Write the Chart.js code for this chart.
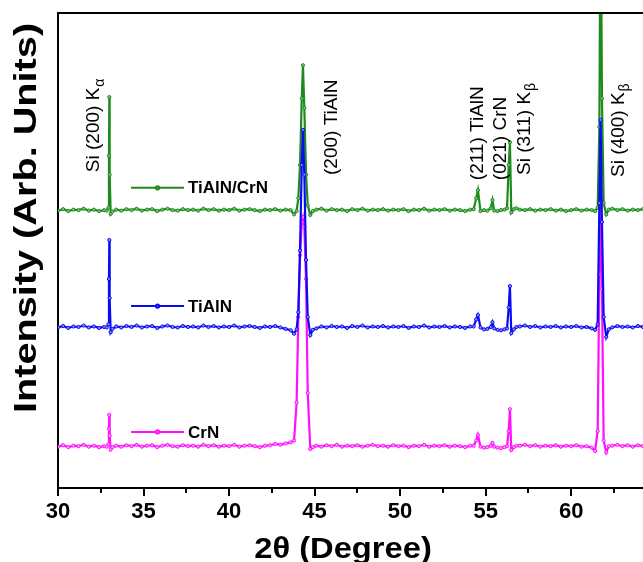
<!DOCTYPE html>
<html>
<head>
<meta charset="utf-8">
<script src="https://cdn.jsdelivr.net/npm/chart.js@4.4.1/dist/chart.umd.min.js"></script>
<style>
    html, body { margin: 0; padding: 0; background: #fff; }
    #wrap { width: 643px; height: 562px; }
</style>
</head>
<body>
<div id="wrap"><canvas id="xrdChart" width="643" height="562"></canvas></div>
<script>
// 2θ positions (degrees), shared by all three scans
const angles = [
    30.0, 30.3, 30.6, 30.9, 31.2, 31.5, 31.8, 32.1, 32.4, 32.7,
    32.85, 32.95, 32.98, 33.0, 33.02, 33.08, 33.18,
    33.4, 33.7, 34.0, 34.3, 34.6, 34.9, 35.2, 35.5, 35.8, 36.1, 36.4, 36.7, 37.0, 37.3, 37.6, 37.9, 38.2, 38.5,
    38.8, 39.1, 39.4, 39.7, 40.0, 40.3, 40.6, 40.9, 41.2, 41.5, 41.8, 42.1, 42.4, 42.7, 43.0, 43.3, 43.6,
    43.8, 43.95, 44.05, 44.15, 44.25, 44.32, 44.4, 44.5, 44.6, 44.75, 44.9,
    45.1, 45.4, 45.7, 46.0, 46.3, 46.6, 46.9, 47.2, 47.5, 47.8, 48.1, 48.4, 48.7, 49.0, 49.3, 49.6,
    49.9, 50.2, 50.5, 50.8, 51.1, 51.4, 51.7, 52.0, 52.3, 52.6, 52.9, 53.2, 53.5, 53.8, 54.1,
    54.3, 54.45, 54.55, 54.7, 54.9, 55.1, 55.3, 55.4, 55.5, 55.7, 55.9, 56.1, 56.25, 56.35, 56.42, 56.5, 56.65, 56.8,
    57.0, 57.3, 57.6, 57.9, 58.2, 58.5, 58.8, 59.1, 59.4, 59.7, 60.0, 60.3, 60.6, 60.9, 61.2,
    61.4, 61.55, 61.65, 61.72, 61.8, 61.9, 62.05, 62.2,
    62.4, 62.7, 63.0, 63.3, 63.6, 63.9, 64.2
];

// intensities (arb. units, already offset per sample)
const tialnCrn = [
    58.4, 58.7, 58.3, 58.6, 58.5, 58.8, 58.4, 58.6, 58.3, 58.5,
    58.4, 59.0, 70.0, 82.3, 66.0, 57.7, 58.2,
    58.6, 58.4, 58.7, 58.5, 58.8, 58.4, 58.6, 58.7, 58.3, 58.6, 58.8, 58.5, 58.4, 58.7, 58.5, 58.6, 58.4, 58.8,
    58.5, 58.7, 58.4, 58.6, 58.5, 58.8, 58.4, 58.6, 58.7, 58.5, 58.3, 58.6, 58.5, 58.7, 58.4, 58.6, 58.5,
    57.6, 58.3, 61.0, 68.0, 82.0, 89.0, 80.0, 66.0, 59.5, 57.5, 58.3,
    58.6, 58.8, 58.4, 58.7, 58.5, 58.6, 58.3, 58.7, 58.5, 58.8, 58.4, 58.6, 58.5, 58.7, 58.4, 58.6,
    58.5, 58.7, 58.3, 58.6, 58.5, 58.8, 58.4, 58.6, 58.5, 58.7, 58.4, 58.6, 58.5, 58.3, 58.6,
    58.7, 61.0, 62.7, 58.3, 58.5, 58.4, 58.9, 60.6, 58.4, 58.3, 58.5, 58.6, 58.9, 68.0, 72.8, 58.0, 58.7, 58.9,
    58.6, 58.5, 58.7, 58.4, 58.6, 58.5, 58.7, 58.4, 58.6, 58.3, 58.5, 58.7, 58.4, 58.6, 58.5,
    58.3, 59.0, 76.0, 130.0, 82.0, 60.0, 57.6, 58.6,
    58.8, 58.5, 58.7, 58.4, 58.6, 58.5, 58.7
];

const tialn = [
    33.8, 34.1, 33.7, 34.0, 33.9, 34.2, 33.8, 34.0, 33.7, 33.9,
    33.8, 34.5, 44.0, 52.2, 40.0, 32.8, 33.5,
    34.0, 33.8, 34.1, 33.9, 34.2, 33.8, 34.0, 34.1, 33.7, 34.0, 34.2, 33.9, 33.8, 34.1, 33.9, 34.0, 33.8, 34.2,
    33.9, 34.1, 33.8, 34.0, 33.9, 34.2, 33.8, 34.0, 34.1, 33.9, 33.7, 34.0, 33.9, 34.1, 33.8, 33.5, 33.2,
    32.5, 33.4, 37.0, 50.0, 68.0, 75.4, 66.0, 48.0, 36.0, 32.2, 33.3,
    33.6, 34.0, 33.8, 34.1, 33.9, 34.0, 33.7, 34.1, 33.9, 34.2, 33.8, 34.0, 33.9, 34.1, 33.8, 34.0,
    33.9, 34.1, 33.7, 34.0, 33.9, 34.2, 33.8, 34.0, 33.9, 34.1, 33.8, 34.0, 33.9, 33.7, 34.0,
    34.0, 35.5, 36.4, 33.8, 33.4, 33.5, 33.9, 34.9, 33.6, 33.3, 33.2, 33.4, 33.6, 38.0, 42.5, 32.6, 33.4, 33.9,
    34.0, 34.2, 33.9, 34.1, 33.8, 34.0, 33.9, 34.1, 33.8, 34.0, 33.9, 34.1, 33.8, 33.9, 33.6,
    33.3, 34.5, 60.0, 77.5, 56.0, 36.0, 31.8, 33.4,
    33.8, 34.1, 33.9, 34.0, 33.8, 34.1, 33.9
];

const crn = [
    8.7, 9.0, 8.6, 8.9, 8.8, 9.1, 8.7, 8.9, 8.6, 8.8,
    8.7, 9.2, 12.5, 15.4, 11.0, 8.1, 8.6,
    8.9, 8.7, 9.0, 8.8, 9.1, 8.7, 8.9, 9.0, 8.6, 8.9, 9.1, 8.8, 8.7, 9.0, 8.8, 8.9, 8.7, 9.1,
    8.8, 9.0, 8.7, 8.9, 8.8, 9.1, 8.7, 8.9, 9.0, 8.8, 8.6, 8.9, 9.0, 9.3, 9.1, 9.4, 9.6,
    10.0, 18.0, 36.0, 49.0, 56.0, 57.0, 55.0, 44.0, 20.0, 8.2, 8.6,
    8.9, 8.7, 9.0, 8.8, 9.1, 8.7, 8.9, 8.8, 9.0, 8.7, 8.9, 9.1, 8.8, 8.9, 8.7, 9.0,
    8.8, 8.9, 8.6, 8.9, 8.8, 9.1, 8.7, 8.9, 8.8, 9.0, 8.7, 8.9, 8.8, 8.6, 8.9,
    8.9, 10.0, 11.2, 8.7, 8.5, 8.6, 8.9, 9.5, 8.7, 8.5, 8.4, 8.6, 8.8, 12.0, 16.6, 8.0, 8.6, 8.9,
    8.9, 9.1, 8.8, 9.0, 8.7, 8.9, 8.8, 9.0, 8.7, 8.9, 8.8, 9.0, 8.7, 8.8, 8.5,
    7.8, 12.0, 45.0, 60.0, 42.0, 10.0, 7.5, 8.8,
    8.9, 9.1, 8.8, 9.0, 8.7, 9.0, 8.8
];

const seriesNames = ['TiAlN/CrN', 'TiAlN', 'CrN'];
const xTicks = [30, 32.5, 35, 37.5, 40, 42.5, 45, 47.5, 50, 52.5, 55, 57.5, 60, 62.5];

// peak annotations: text, subscript, 2θ of the text column, intensity where text starts
const peakLabels = [
    { text: 'Si (200) K', sub: 'α', x: 32.0, y: 66.5 },
    { text: '(200) TiAlN', sub: '', x: 45.9, y: 65.9 },
    { text: '(211) TiAlN', sub: '', x: 54.43, y: 64.8 },
    { text: '(021) CrN', sub: '', x: 55.78, y: 64.8 },
    { text: 'Si (311) K', sub: 'β', x: 57.18, y: 65.9 },
    { text: 'Si (400) K', sub: 'β', x: 62.69, y: 65.5 }
];

const FONT = '"Liberation Sans", Arial, sans-serif';
const colors = ['#1e8a1e', '#0a0af5', '#ff10ff'];
const lightColors = ['#7cc47c', '#8a8aff', '#ff9cff'];
// in-plot legend rows (intensity level of each sample's key)
const legendLevels = [63.2, 38.3, 11.8];

function toPoints(ys) {
    return angles.map((a, i) => ({ x: a, y: ys[i] }));
}

const decorPlugin = {
    id: 'decor',
    afterDraw(chart) {
        const { ctx, chartArea: a, scales: { x, y } } = chart;
        ctx.save();

        // frame top + minor ticks
        ctx.strokeStyle = '#000';
        ctx.lineWidth = 2;
        ctx.beginPath();
        ctx.moveTo(a.left - 1, a.top);
        ctx.lineTo(chart.width, a.top);
        ctx.stroke();
        xTicks.filter(v => v % 5 !== 0).forEach(v => {
            const px = Math.round(x.getPixelForValue(v));
            ctx.beginPath();
            ctx.moveTo(px, a.bottom);
            ctx.lineTo(px, a.bottom + 5);
            ctx.stroke();
        });

        // peak labels, rotated
        ctx.fillStyle = '#000';
        peakLabels.forEach(p => {
            const px = x.getPixelForValue(p.x) + 7;
            const py = y.getPixelForValue(p.y);
            ctx.save();
            ctx.translate(px, py);
            ctx.rotate(-Math.PI / 2);
            ctx.textAlign = 'left';
            ctx.textBaseline = 'alphabetic';
            ctx.font = `19px ${FONT}`;
            ctx.fillText(p.text, 0, 0);
            if (p.sub) {
                const w = ctx.measureText(p.text).width;
                ctx.font = `14px ${FONT}`;
                ctx.fillText(p.sub, w + 1, 5);
            }
            ctx.restore();
        });

        // legend keys inside the plot
        seriesNames.forEach((name, i) => {
            const py = y.getPixelForValue(legendLevels[i]);
            const x0 = x.getPixelForValue(34.27);
            const x1 = x.getPixelForValue(37.37);
            ctx.strokeStyle = colors[i];
            ctx.lineWidth = 2;
            ctx.beginPath();
            ctx.moveTo(x0, py);
            ctx.lineTo(x1, py);
            ctx.stroke();
            ctx.fillStyle = lightColors[i];
            ctx.beginPath();
            ctx.arc((x0 + x1) / 2, py, 1.6, 0, Math.PI * 2);
            ctx.fill();
            ctx.stroke();
            ctx.fillStyle = '#000';
            ctx.font = `bold 17px ${FONT}`;
            ctx.textAlign = 'left';
            ctx.textBaseline = 'middle';
            ctx.fillText(name, x.getPixelForValue(37.6), py + 1);
        });

        // axis titles (slightly stretched like the source figure)
        ctx.fillStyle = '#000';
        ctx.save();
        ctx.translate(27, 218);
        ctx.rotate(-Math.PI / 2);
        ctx.scale(1.24, 1);
        ctx.font = `bold 32px ${FONT}`;
        ctx.textAlign = 'center';
        ctx.textBaseline = 'middle';
        ctx.fillText('Intensity (Arb. Units)', 0, 0);
        ctx.restore();

        ctx.save();
        ctx.translate(343, 558);
        ctx.scale(1.09, 1);
        ctx.font = `bold 30px ${FONT}`;
        ctx.textAlign = 'center';
        ctx.textBaseline = 'alphabetic';
        ctx.fillText('2θ (Degree)', 0, 0);
        ctx.restore();

        ctx.restore();
    }
};

const datasets = [tialnCrn, tialn, crn].map((ys, i) => ({
    label: seriesNames[i],
    data: toPoints(ys),
    borderColor: colors[i],
    backgroundColor: colors[i],
    borderWidth: 2.2,
    pointRadius: 1.6,
    pointBorderWidth: 1,
    pointBackgroundColor: lightColors[i],
    pointBorderColor: colors[i],
    tension: 0,
    // blue on top, then magenta, green underneath
    order: [2, 0, 1][i]
}));

new Chart(document.getElementById('xrdChart'), {
    type: 'line',
    data: { datasets: datasets },
    options: {
        responsive: false,
        animation: false,
        events: [],
        layout: { autoPadding: false, padding: { top: 13, left: 0, right: 0, bottom: 0 } },
        plugins: {
            legend: { display: false },
            tooltip: { enabled: false }
        },
        scales: {
            x: {
                type: 'linear',
                min: 30,
                max: 64.2,
                afterBuildTicks: (scale) => { scale.ticks = xTicks.map(v => ({ value: v })); },
                afterFit: (scale) => { scale.height = 74; },
                grid: {
                    display: true,
                    drawOnChartArea: false,
                    drawTicks: true,
                    tickLength: 8,
                    lineWidth: 2,
                    color: (c) => (c.tick && c.tick.value % 5 === 0) ? '#000' : 'rgba(0,0,0,0)'
                },
                border: { display: true, color: '#000', width: 2 },
                ticks: {
                    autoSkip: false,
                    maxRotation: 0,
                    padding: 3,
                    color: '#000',
                    font: { family: FONT, size: 22, weight: 'bold' },
                    callback: (v) => (v % 5 === 0 ? String(v) : '')
                }
            },
            y: {
                min: 0,
                max: 100,
                afterFit: (scale) => { scale.width = 58; },
                ticks: { display: false },
                grid: { display: false },
                border: { display: true, color: '#000', width: 2 }
            }
        }
    },
    plugins: [decorPlugin]
});
</script>
</body>
</html>
